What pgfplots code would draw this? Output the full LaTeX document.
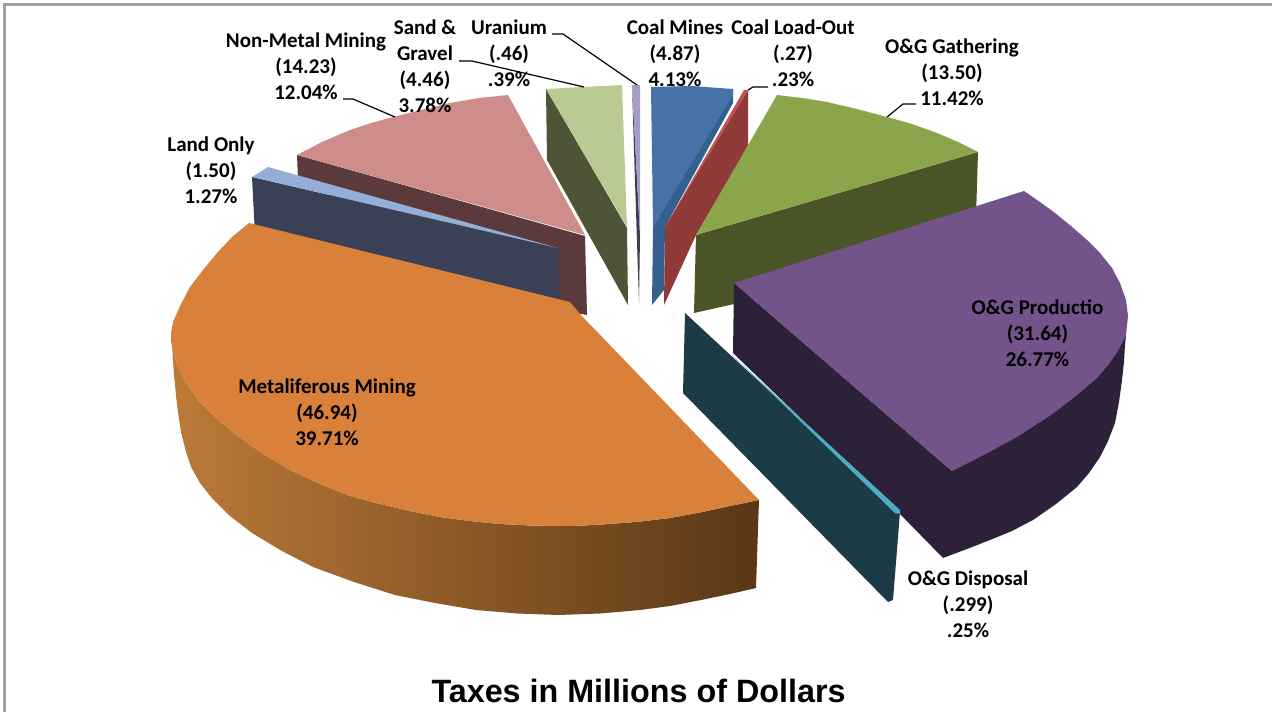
\documentclass[border=0pt]{standalone}
\usepackage{pgfplots}
\pgfplotsset{compat=1.18}
\usepackage{fontspec}
\setmainfont{Carlito}
\newfontfamily\titlefont{Liberation Sans}
\definecolor{orT}{HTML}{D9813B}
\definecolor{orA}{HTML}{BC7A38}
\definecolor{orB}{HTML}{8F5628}
\definecolor{orC}{HTML}{5A3716}
\definecolor{piT}{HTML}{CE8C8B}
\definecolor{piS}{HTML}{5A3A3A}
\definecolor{laT}{HTML}{95AED8}
\definecolor{laS}{HTML}{3A4156}
\definecolor{saT}{HTML}{B9CB92}
\definecolor{saS}{HTML}{4E5537}
\definecolor{urT}{HTML}{A89CC4}
\definecolor{urS}{HTML}{3F3A52}
\definecolor{coT}{HTML}{4573A7}
\definecolor{coS}{HTML}{34608F}
\definecolor{reT}{HTML}{C0504D}
\definecolor{reS}{HTML}{8E3A38}
\definecolor{grT}{HTML}{8BA54B}
\definecolor{grS}{HTML}{4A5527}
\definecolor{puT}{HTML}{72548A}
\definecolor{puS}{HTML}{2D2139}
\definecolor{diT}{HTML}{4BACC6}
\definecolor{diS}{HTML}{1C3B46}
\definecolor{frameC}{HTML}{A0A0A0}
\tikzset{lab/.style={font=\fontsize{21}{26}\selectfont\bfseries,align=center,text=black,inner sep=0pt},
 lead/.style={black,line width=1.2pt}}
\begin{document}
\begin{tikzpicture}
\begin{axis}[width=1272pt,height=712pt,scale only axis,xmin=0,xmax=1272,ymin=0,ymax=712,y dir=reverse,hide axis,clip=true]
% page
\addplot[fill=white,draw=none] coordinates {(0,0)(1272,0)(1272,712)(0,712)};
\addplot[frameC,line width=2.2pt] coordinates {(4.5,712)(4.5,4.5)(1272,4.5)};
% Coal mines
\addplot[fill=coS,draw=none] coordinates {(733,90)(733,103)(665,227)(664,290)(652,305)(653,227)};
\addplot[fill=coT,draw=none] coordinates {(651,87)(692,86)(733,89)(733,95)(653,227)};
% Coal load-out
\addplot[fill=reS,draw=none] coordinates {(748,90)(748,147)(696,235)(664,305)(665,227)};
\addplot[fill=reT,draw=none] coordinates {(744,90)(748,90)(665,227)};
% O&G Gathering
\addplot[fill=grS,draw=none] coordinates {(696,235)(978,152)(975,250)(694,313)};
\addplot[fill=grT,draw=none] coordinates {(777,95)(802,98)(827,102)(857,109)(887,117)(912,124)(937,133)(958,142)(978,152)(696,235)};
% Uranium
\addplot[fill=urS,draw=none] coordinates {(632,85)(634,150)(639,303)(640,235)};
\addplot[fill=urT,draw=none] coordinates {(632,85)(640,85)(640,235)};
% Sand and gravel
\addplot[fill=saS,draw=none] coordinates {(546,89)(627,228)(628,305)(547,160)};
\addplot[fill=saT,draw=none] coordinates {(546,89)(583,87)(622,85)(627,227)};
% Non-metal
\addplot[fill=piS,draw=none] coordinates {(297,155)(585,236)(587,315)(570,312)(298,180)};
\addplot[fill=piT,draw=none] coordinates {(297,155)(322,142)(350,130)(371,123)(393,117)(421,110)(450,103)(479,98)(508,95)(585,235)};
% Land only
\addplot[fill=laS,draw=none] coordinates {(252,177)(558,248)(560,310)(255,235)};
\addplot[fill=laT,draw=none] coordinates {(252,177)(268,167)(558,248)};
% Metaliferous side
\addplot[draw=none,left color=orA,middle color=orB,right color=orC] coordinates {(171,333)(172,345)(174,375)(177,405)(181,432)(186,452)(191,467)(200,483)(211,497)(230,516)(252,533)(282,551)(313,567)(354,582)(395,595)(435,603)(476,610)(517,613.5)(558,615)(600,613.5)(640,610)(670,606)(701,600)(730,594)(756,588)(759,500)(730,506)(700,512.5)(670,518)(640,521.6)(610,524)(580,525.7)(558,526)(530,525.5)(500,524)(470,521)(440,517)(410,511)(380,504)(350,496)(320,484)(290,470)(260,452)(235,434)(215,417)(198,400)(186,383)(177,365)(172,347)};
\addplot[fill=orT,draw=none] coordinates {(249,223)(232,237)(217,253)(203,270)(190,287)(180,306)(173,322)(171,333)(172,347)(177,365)(186,383)(198,400)(215,417)(235,434)(260,452)(290,470)(320,484)(350,496)(380,504)(410,511)(440,517)(470,521)(500,524)(530,525.5)(558,526)(580,525.7)(610,524)(640,521.6)(670,518)(700,512.5)(730,506)(759,500)(579,313)(570,302)};
% O&G production
\addplot[fill=puS,draw=none] coordinates {(734,283)(952,471)(1126,335)(1125,345)(1124,362)(1122,380)(1119,402)(1115,423)(1108,441)(1100,457)(1089,473)(1077,487)(1056,504)(1033,520)(1012,531)(990,540)(967,549)(943,558)(898,512)(733,353)};
\addplot[fill=puT,draw=none] coordinates {(1024,191)(1040,202)(1055,213)(1071,226)(1087,240)(1100,253)(1112,268)(1120,283)(1126,300)(1128,316)(1126,335)(1118,351)(1108,365)(1097,378)(1083,390)(1067,403)(1051,415)(1034,426)(1017,437)(995,449)(974,460)(952,471)(734,283)};
% O&G disposal
\addplot[fill=diS,draw=none] coordinates {(685,313)(900,512)(893,600)(888,602)(683,393)};
\addplot[fill=diT,draw=none] coordinates {(732,355)(900,510)(900,514)(895,513)};
% leaders
\addplot[lead] coordinates {(343,99)(353,99)(395,117)};
\addplot[lead] coordinates {(459,61)(472,61)(584,87)};
\addplot[lead] coordinates {(552,34)(563,34)(637,85)};
\addplot[lead] coordinates {(768,87)(753,87)(748,90)};
\addplot[lead] coordinates {(916,104)(903,104)(887,117)};
% labels
\node[lab] at (axis cs:306,66.5) {Non-Metal Mining\\(14.23)\\12.04\%};
\node[lab] at (axis cs:425,66.5) {Sand \&\\Gravel\\(4.46)\\3.78\%};
\node[lab] at (axis cs:509,53.5) {Uranium\\(.46)\\.39\%};
\node[lab] at (axis cs:675,53.5) {Coal Mines\\(4.87)\\4.13\%};
\node[lab] at (axis cs:793,53.5) {Coal Load-Out\\(.27)\\.23\%};
\node[lab] at (axis cs:952,72.5) {O\&G Gathering\\(13.50)\\11.42\%};
\node[lab] at (axis cs:211,170.5) {Land Only\\(1.50)\\1.27\%};
\node[lab] at (axis cs:327,412.5) {Metaliferous Mining\\(46.94)\\39.71\%};
\node[lab] at (axis cs:1037.5,333.5) {O\&G Productio\\(31.64)\\26.77\%};
\node[lab] at (axis cs:968,604.5) {O\&G Disposal\\(.299)\\.25\%};
\node[font=\titlefont\fontsize{32.3}{36}\selectfont\bfseries,inner sep=0pt,text=black] at (axis cs:638.5,691) {Taxes in Millions of Dollars};
\end{axis}
\end{tikzpicture}
\end{document}
